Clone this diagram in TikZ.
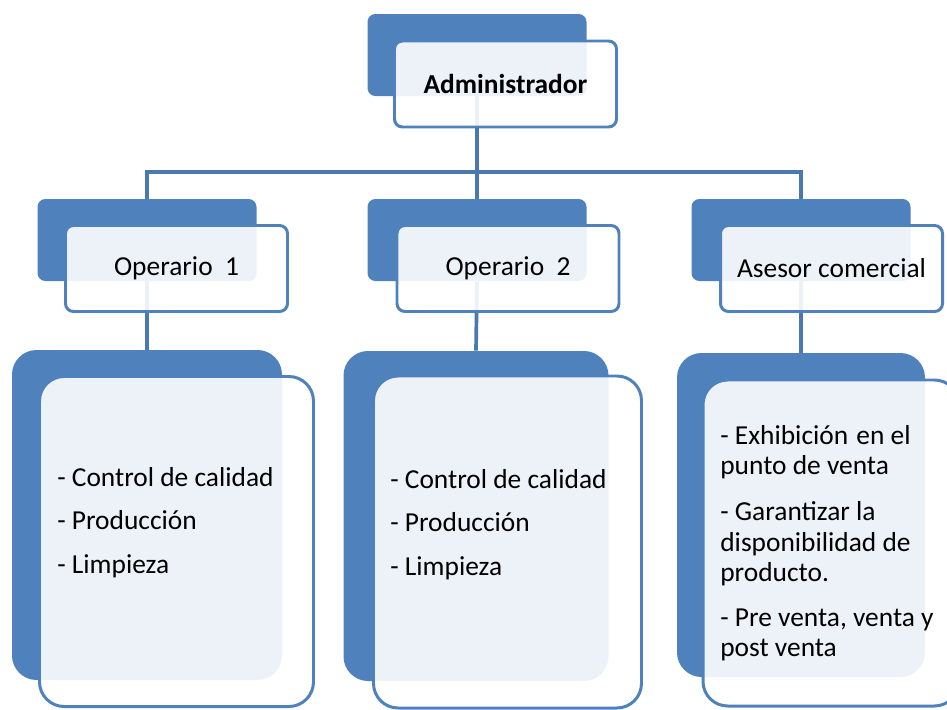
\documentclass[tikz,border=0pt]{standalone}
\usepackage{fontspec}
\setmainfont{Carlito}
\usepackage{tikz}
\definecolor{azulfondo}{HTML}{4F81BD}
\definecolor{azullinea}{HTML}{4A78B0}
\newdimen\pxu \pxu=0.02cm

\begin{document}
\begin{tikzpicture}[x=0.02cm,y=-0.02cm,
  letra/.style={font=\fontsize{15.6}{17.3}\selectfont},
  atras/.style={fill=azulfondo, rounded corners=4.5pt, inner sep=0pt},
  frente/.style={draw=azulfondo, line width=1.7pt, fill=white, fill opacity=0.9, text opacity=1,
    rounded corners=4.5pt, inner sep=0pt, letra},
  chica/.style={minimum width=219*\pxu, minimum height=82*\pxu},
  chicafrente/.style={minimum width=222*\pxu, minimum height=86*\pxu},
  grande/.style={rounded corners=14pt, minimum height=330*\pxu},
  conector/.style={draw=azullinea, line width=2.1pt},
  tareas/.style={anchor=north west, inner sep=0pt, align=left, letra}]
\useasboundingbox (0,0) rectangle (947,710);

% cajas de fondo
\node[atras,chica] (adminatras) at (477,55) {};
\node[atras,chica] (op1atras) at (147,240) {};
\node[atras,chica] (op2atras) at (477,240) {};
\node[atras,chica] (asesoratras) at (801,240) {};
\node[atras,grande,minimum width=270*\pxu] (det1atras) at (147,515) {};
\node[atras,grande,minimum width=265*\pxu] (det2atras) at (476,516) {};
\node[atras,grande,minimum width=248*\pxu,minimum height=324*\pxu] (det3atras) at (801,515) {};

% lineas
\coordinate (barra) at (0,172);
\draw[conector] (adminatras.south) -- (adminatras.south |- barra);
\draw[conector] (op1atras.north) |- (asesoratras.north |- barra) -- (asesoratras.north);
\draw[conector] (op2atras.north) -- (op2atras.north |- barra);
\draw[conector] (op1atras.south) -- (det1atras.north);
\draw[conector] (op2atras.south) -- (det2atras.north);
\draw[conector] (asesoratras.south) -- (det3atras.north);

% cajas de frente
\node[frente,chicafrente,font=\fontsize{15.6}{17.3}\selectfont\bfseries] (adminfrente) at (505.5,84) {Administrador};
\node[frente,chicafrente] (op1frente) at (176.5,268.5) {Operario\hspace{0.45em}1};
\node[frente,chicafrente] (op2frente) at (508,268.5) {Operario\hspace{0.45em}2};
\node[frente,chicafrente] (asesorfrente) at (831.5,268.5) {Asesor comercial};
\node[frente,grande,minimum width=274*\pxu] (det1frente) at (176.5,541.5) {};
\node[frente,grande,minimum width=268*\pxu,minimum height=332*\pxu] (det2frente) at (507.5,542) {};
\node[frente,grande,minimum width=256*\pxu,minimum height=326*\pxu] (det3frente) at (831,543) {};

% funciones
\node[tareas] (tareas1) at (57,467) {- Control de calidad\\[7.5pt]- Producci\'on\\[7.5pt]- Limpieza};
\node[tareas] (tareas2) at (390,469) {- Control de calidad\\[7.5pt]- Producci\'on\\[7.5pt]- Limpieza};
\node[tareas] (tareas3) at (720,425) {- Exhibici\'on\hspace{0.3em}en el\\punto de venta\\[9pt]- Garantizar la\\disponibilidad de\\producto.\\[8pt]- Pre venta, venta y\\post venta};
\end{tikzpicture}
\end{document}
